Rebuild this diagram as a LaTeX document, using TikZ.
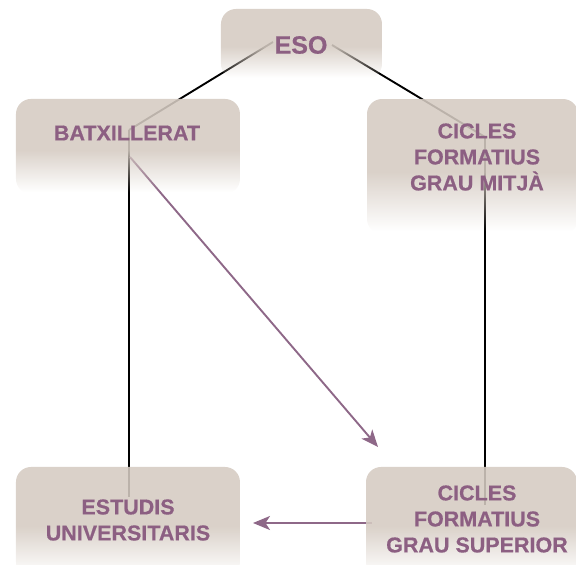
\documentclass[tikz,border=0pt]{standalone}
\usepackage{fontspec}
\setmainfont{Liberation Sans}[BoldFeatures={FakeBold=0.5}]
\usetikzlibrary{arrows.meta,fadings,calc}
\definecolor{boxtan}{RGB}{213,203,194}
\definecolor{txtpurple}{RGB}{140,95,130}
\definecolor{arrpurple}{RGB}{142,104,136}
\pgfdeclareverticalshading{boxfadeshade}{100bp}{color(0bp)=(black); color(26bp)=(black); color(48bp)=(white); color(100bp)=(white)}
\pgfdeclarefading{boxfade}{\pgfuseshading{boxfadeshade}}
\tikzset{
  box/.style={draw=none, fill=boxtan, fill opacity=0.88, rounded corners=15pt, inner sep=0pt, path fading=boxfade},
  lbl/.style={text=txtpurple, font=\bfseries\fontsize{21.5}{26}\selectfont, align=center, inner sep=0pt},
  conn/.style={draw=black, line width=1.9pt},
  arr/.style={draw=arrpurple, line width=1.9pt, -{Stealth[length=17pt,width=14pt,inset=4.5pt]}},
}
\begin{document}
\begin{tikzpicture}[x=1pt,y=-1pt]
\useasboundingbox (0,0) rectangle (576,565);
% text anchors (named, drawn later on top)
\coordinate (esoc) at (301,45);
\coordinate (batc) at (127,133);
\coordinate (mitc) at (477,157);
\coordinate (estc) at (128,520);
\coordinate (supc) at (477,519);
% connectors
\draw[conn] ($(esoc)+(-28,-3)$) coordinate (e1) -- ($(batc)+(2,-3)$) coordinate (b1);
\draw[conn] ($(esoc)+(31,0)$) coordinate (e2) -- ($(mitc)+(8,-20)$) coordinate (m1);
\draw[conn] (b1) -- ($(estc)+(1,-23)$) coordinate (u1);
\draw[conn] (m1) -- ($(supc)+(8,-14)$) coordinate (s1);
\draw[arr] ($(batc)+(3,24)$) coordinate (b2) -- ($(supc)+(-99,-72)$) coordinate (s2);
\draw[arr] ($(supc)+(-105,4)$) coordinate (s3) -- ($(estc)+(125,3)$) coordinate (u2);
% boxes
\node[box, minimum width=161pt, minimum height=70pt] (esobox) at (301.5,44) {};
\node[box, minimum width=224pt, minimum height=95pt] (batbox) at (128,146.5) {};
\node[box, minimum width=211pt, minimum height=135pt] (mitbox) at (472.5,166.5) {};
\node[box, minimum width=224pt, minimum height=110pt] (estbox) at (128,522) {};
\node[box, minimum width=211pt, minimum height=110pt] (supbox) at (471.5,522) {};
% texts
\node[lbl, font=\bfseries\fontsize{25}{30}\selectfont] (eso) at (esoc) {ESO};
\node[lbl] (bat) at (batc) {BATXILLERAT};
\node[lbl] (mit) at (mitc) {CICLES\\FORMATIUS\\GRAU MITJÀ};
\node[lbl] (est) at (estc) {ESTUDIS\\UNIVERSITARIS};
\node[lbl] (sup) at (supc) {CICLES\\FORMATIUS\\GRAU SUPERIOR};
\end{tikzpicture}
\end{document}
